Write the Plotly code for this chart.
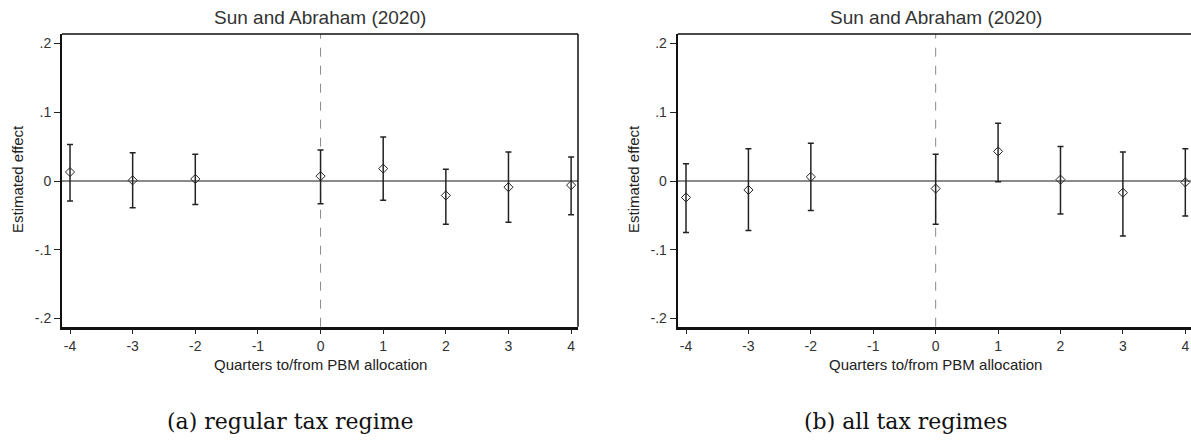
import plotly.graph_objects as go

# event time (quarters relative to PBM allocation); -1 is the omitted reference period
quarters = [-4, -3, -2, 0, 1, 2, 3, 4]

# (a) regular tax regime
est_a = [0.013, 0.001, 0.003, 0.007, 0.018, -0.021, -0.009, -0.006]
lo_a = [-0.029, -0.039, -0.034, -0.033, -0.028, -0.063, -0.060, -0.049]
hi_a = [0.053, 0.041, 0.039, 0.045, 0.064, 0.017, 0.042, 0.035]

# (b) all tax regimes
est_b = [-0.024, -0.013, 0.006, -0.011, 0.043, 0.002, -0.017, -0.002]
lo_b = [-0.075, -0.072, -0.043, -0.063, -0.001, -0.048, -0.080, -0.051]
hi_b = [0.025, 0.047, 0.055, 0.039, 0.084, 0.050, 0.042, 0.047]

x_ticks = [-4, -3, -2, -1, 0, 1, 2, 3, 4]
x_ticktext = ["-4", "-3", "-2", "-1", "0", "1", "2", "3", "4"]
y_ticks = [-0.2, -0.1, 0, 0.1, 0.2]
y_ticktext = ["-.2", "-.1", "0", ".1", ".2"]

panel_title = "Sun and Abraham (2020)"
x_title = "Quarters to/from PBM allocation"
y_title = "Estimated effect"
captions = ["(a) regular tax regime", "(b) all tax regimes"]

W, H = 1191, 440
SANS = "Liberation Sans"
SERIF = "DejaVu Serif"

fig = go.Figure()

panels = [
    dict(est=est_a, lo=lo_a, hi=hi_a, xa="x", ya="y",
         dom=[62 / W, 578 / W], rng=[-4.128, 4.11], cap_x=290 / W, ylab_x=17 / W),
    dict(est=est_b, lo=lo_b, hi=hi_b, xa="x2", ya="y2",
         dom=[677.7 / W, 1.0], rng=[-4.133, 4.091], cap_x=906 / W, ylab_x=633 / W),
]

y_dom = [(H - 326.7) / H, (H - 34) / H]

for i, p in enumerate(panels):
    plus = [h - e for h, e in zip(p["hi"], p["est"])]
    minus = [e - l for e, l in zip(p["est"], p["lo"])]
    fig.add_trace(go.Scatter(
        x=quarters, y=p["est"], mode="markers", xaxis=p["xa"], yaxis=p["ya"],
        marker=dict(symbol="diamond-open", size=7, color="#222", line=dict(width=1)),
        error_y=dict(type="data", symmetric=False, array=plus, arrayminus=minus,
                     color="#222", thickness=1.5, width=3),
        showlegend=False, hoverinfo="skip", cliponaxis=False,
    ))

    sfx = "" if i == 0 else "2"
    fig.update_layout({
        "xaxis" + sfx: dict(
            domain=p["dom"], range=p["rng"], anchor="y" + sfx,
            tickvals=x_ticks, ticktext=x_ticktext, ticks="outside", ticklen=5,
            tickwidth=1.2, tickcolor="#222", showline=True, linewidth=2.5,
            linecolor="#111", showgrid=False, zeroline=False,
            tickfont=dict(family=SANS, size=14, color="#333"),
        ),
        "yaxis" + sfx: dict(
            domain=y_dom, range=[-0.2118, 0.2137], anchor="x" + sfx,
            tickvals=y_ticks, ticktext=y_ticktext, ticks="outside", ticklen=6,
            tickwidth=1.2, tickcolor="#222", showline=True, linewidth=2,
            linecolor="#111", showgrid=False, zeroline=True,
            zerolinecolor="#8a8a8a", zerolinewidth=1.5,
            tickfont=dict(family=SANS, size=14, color="#333"),
        ),
    })

    xd = p["xa"] + " domain"
    yd = p["ya"] + " domain"
    # vertical reference line at treatment
    fig.add_shape(type="line", xref=p["xa"], yref=yd, x0=0, x1=0, y0=0, y1=1,
                  line=dict(color="#8a8a8a", width=1, dash="dash"), layer="below")
    # plot region frame: top and right
    fig.add_shape(type="line", xref=xd, yref=yd, x0=0, x1=1, y0=1, y1=1,
                  line=dict(color="#111", width=1.5))
    if i == 0:
        fig.add_shape(type="line", xref=xd, yref=yd, x0=1, x1=1, y0=0, y1=1,
                      line=dict(color="#111", width=1.5))

    mid = (p["dom"][0] + p["dom"][1]) / 2 if i == 0 else (677.7 + 1194) / 2 / W
    fig.add_annotation(text=panel_title, x=mid, y=(H - 18) / H, xref="paper", yref="paper",
                       showarrow=False, xanchor="center", yanchor="middle",
                       font=dict(family=SANS, size=19, color="#333"))
    fig.add_annotation(text=x_title, x=mid, y=(H - 364) / H, xref="paper", yref="paper",
                       showarrow=False, xanchor="center", yanchor="middle",
                       font=dict(family=SANS, size=15, color="#222"))
    fig.add_annotation(text=y_title, x=p["ylab_x"], y=(H - 179) / H, xref="paper", yref="paper",
                       showarrow=False, textangle=-90, xanchor="center", yanchor="middle",
                       font=dict(family=SANS, size=15, color="#222"))
    fig.add_annotation(text=captions[i], x=p["cap_x"], y=(H - 421) / H, xref="paper", yref="paper",
                       showarrow=False, xanchor="center", yanchor="middle",
                       font=dict(family=SERIF, size=22, color="#111"))

fig.update_layout(
    width=W, height=H, margin=dict(l=0, r=0, t=0, b=0),
    paper_bgcolor="white", plot_bgcolor="white",
)

# drop the browser's default body margin so the figure sits at the page origin
fig.write_html("out.html", config={"displayModeBar": False},
               post_script="document.body.style.margin='0';")
